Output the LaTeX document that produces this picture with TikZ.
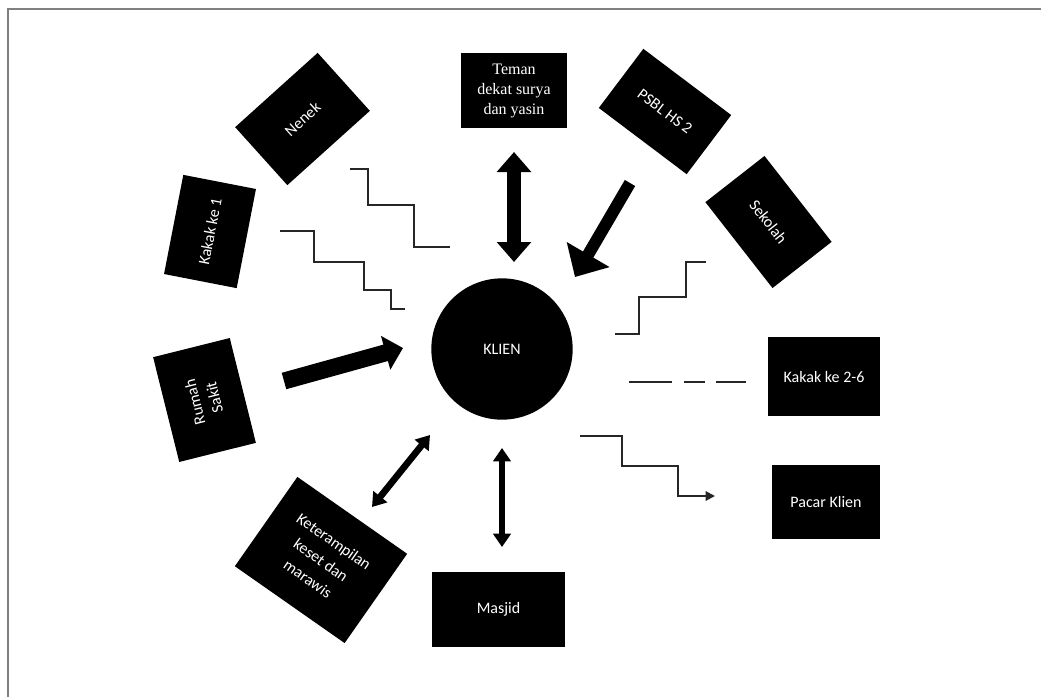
\documentclass[tikz,border=0pt]{standalone}
\usepackage{fontspec}
\setmainfont{Carlito}
\newfontfamily\temanfont{Liberation Serif}
\usetikzlibrary{positioning, shapes.geometric, arrows.meta}
\tikzstyle{blk} = [rectangle, fill=black, text=white, inner sep=0pt, align=center, font=\fontsize{12}{15}\selectfont]
\tikzstyle{klien} = [circle, fill=black, text=white, inner sep=0pt, minimum size=106pt, font=\fontsize{12}{15}\selectfont]
\tikzstyle{stairs} = [line width=1.5pt, draw=black!85]
\tikzstyle{fatarrow} = [line width=12.75pt, -{Triangle[width=25.5pt,length=13.5pt]}]
\tikzstyle{slimarrow} = [line width=9pt, -{Triangle[width=36pt,length=19.5pt]}]
\tikzstyle{dblarrow} = [line width=10.5pt, {Triangle[width=25pt,length=15pt]}-{Triangle[width=25pt,length=15pt]}]
\tikzstyle{thinarrow} = [line width=5pt, {Triangle[width=13pt,length=10pt]}-{Triangle[width=13pt,length=10pt]}]

\begin{document}
\begin{tikzpicture}[x=0.75pt, y=-0.75pt]
\useasboundingbox (0,0) rectangle (1041,697);
\draw[gray, line width=0.8pt] (8,697) -- (8,9) -- (1041,9);

\node (klien) [klien] at (502,349) {KLIEN};
\node (teman) [blk, minimum width=79.5pt, minimum height=56.25pt, font=\temanfont\fontsize{12}{15}\selectfont] at (514,90.5) {Teman\\dekat surya\\dan yasin};
\node (psbl) [blk, minimum width=82.5pt, minimum height=55.5pt, rotate=-37] at (665,111.5) {PSBL HS 2};
\node (sekolah) [blk, minimum width=81.75pt, minimum height=56.25pt, rotate=-52] at (768.5,222) {Sekolah};
\node (nenek) [blk, minimum width=83.25pt, minimum height=58.5pt, rotate=42] at (302.5,119) {Nenek};
\node (kakak1) [blk, minimum width=75.75pt, minimum height=55.5pt, rotate=79] at (210,231.5) {Kakak ke 1};
\node (rumah) [blk, minimum width=81pt, minimum height=59.25pt, rotate=104] at (204.5,400) {Rumah\\Sakit};
\node (skill) [blk, minimum width=100.5pt, minimum height=81.75pt, rotate=-35, font=\fontsize{12}{17}\selectfont] at (321,560) {Keterampilan\\keset dan\\marawis};
\node (masjid) [blk, minimum width=99.75pt, minimum height=56.25pt] at (498.5,609.5) {Masjid};
\node (pacar) [blk, minimum width=81pt, minimum height=55.5pt] at (826,502) {Pacar Klien};
\node (kakak2) [blk, minimum width=84pt, minimum height=59.25pt] at (824,376.5) {Kakak ke 2-6};

\coordinate (ta) at (514,152);
\coordinate (tb) at (514,262);
\coordinate (pa) at (630,183);
\coordinate (pb) at (575,277);
\coordinate (ra) at (284,381);
\coordinate (rb) at (403,348);
\coordinate (ka) at (430,435);
\coordinate (kb) at (372,507);
\coordinate (ma) at (502,448);
\coordinate (mb) at (502,547);
\coordinate (sa) at (350,169);
\coordinate (sb) at (280,231);
\coordinate (sc) at (615,334);
\coordinate (sd) at (580,436);
\coordinate (da) at (629,382);
\coordinate (db) at (746,382);

\draw [dblarrow] (ta) -- (tb);
\draw [slimarrow] (pa) -- (pb);
\draw [fatarrow] (ra) -- (rb);
\draw [thinarrow] (ka) -- (kb);
\draw [thinarrow] (ma) -- (mb);

\draw [stairs] (sa) -- ++(18,0) -- ++(0,36) -- ++(46,0) -- ++(0,42) -- ++(36,0);
\draw [stairs] (sb) -- ++(34,0) -- ++(0,31) -- ++(50,0) -- ++(0,28) -- ++(27,0) -- ++(0,19) -- ++(14,0);
\draw [stairs] (sc) -- ++(24,0) -- ++(0,-37) -- ++(47,0) -- ++(0,-35) -- ++(20,0);
\draw [stairs, -{Triangle[width=7pt,length=7pt]}] (sd) -- ++(42,0) -- ++(0,30) -- ++(56,0) -- ++(0,30) -- ++(37,0);
\draw [stairs, dash pattern=on 32.25pt off 9pt on 15.75pt off 8.25pt] (da) -- (db);

\end{tikzpicture}
\end{document}
